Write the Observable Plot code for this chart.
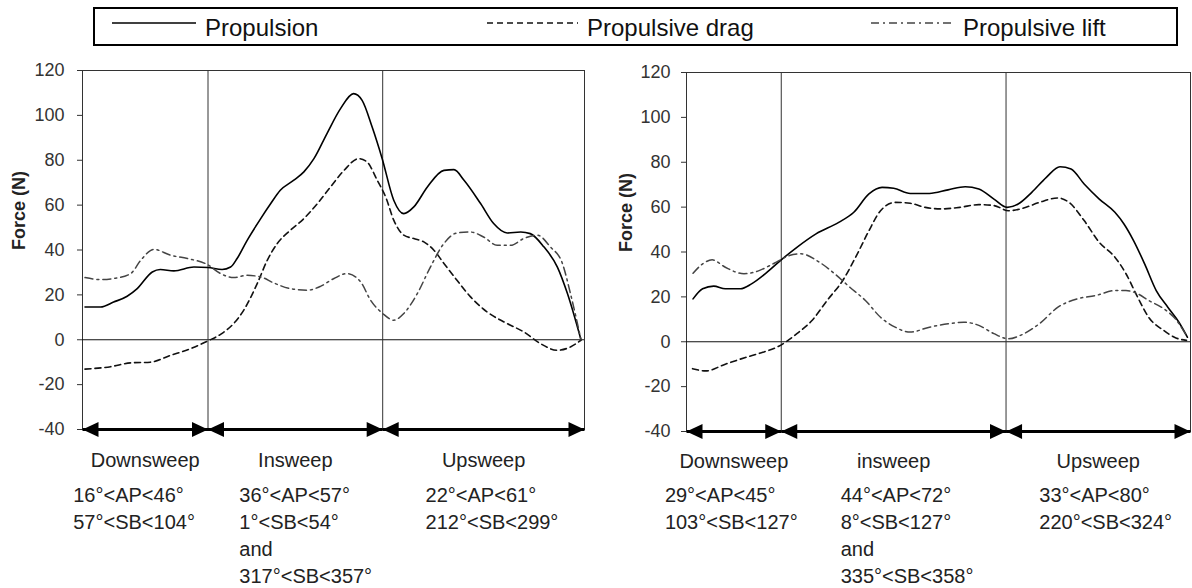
<!DOCTYPE html>
<html>
<head>
<meta charset="utf-8">
<script src="https://cdn.jsdelivr.net/npm/d3@7"></script>
<script src="https://cdn.jsdelivr.net/npm/@observablehq/plot@0.6"></script>
<style>
  body { margin: 0; background: #fff; }
  #root { position: relative; width: 1192px; height: 588px; overflow: hidden;
          font-family: "Liberation Sans", Arial, sans-serif; color: #222; background: #fff; }
  .panel { position: absolute; top: 60px; }
  #legend { position: absolute; left: 93px; top: 7px; width: 1085px; height: 39px;
            box-sizing: border-box; border: 2px solid #000; }
  .lg-item { position: absolute; top: 0; height: 35px; display: flex; align-items: center; white-space: nowrap; }
  .lg-item svg { display: block; margin-right: 9px; }
  .lg-item span { font-size: 24px; line-height: 35px; color: #111; position: relative; top: 1px; }
</style>
</head>
<body>
<div id="root">
  <div id="legend"></div>
  <div id="left" class="panel" style="left:0px"></div>
  <div id="right" class="panel" style="left:596px"></div>
</div>
<script>
// ---------------- DATA ----------------
// x = percentage of the stroke (0..100), y = force (N)
const yTicks = [-40, -20, 0, 20, 40, 60, 80, 100, 120];
const legendLabels = ["Propulsion", "Propulsive drag", "Propulsive lift"];

// Left panel
const leftBounds = [0, 25.0, 59.8, 100];
const leftPhaseNames = ["Downsweep", "Insweep", "Upsweep"];
const leftPhaseAngles = [
  ["16°<AP<46°", "57°<SB<104°"],
  ["36°<AP<57°", "1°<SB<54°", "and", "317°<SB<357°"],
  ["22°<AP<61°", "212°<SB<299°"]
];
const leftPropulsion = [[0.5,14.6],[3.6,14.6],[6.2,16.8],[8.9,19.4],[10.9,22.8],[13.9,30.2],[15.5,31.3],[18.2,30.7],[22.2,32.4],[25.0,32.2],[27.8,31.3],[29.5,32.4],[30.8,36.2],[32.8,44.3],[35.5,54.0],[37.5,60.7],[39.4,66.6],[42.1,71.1],[44.1,74.8],[46.1,80.7],[48.7,91.9],[51.4,103.0],[54.0,109.7],[55.7,106.7],[57.7,94.8],[59.7,80.7],[62.0,62.2],[64.0,56.2],[66.0,59.2],[68.7,68.1],[72.0,75.5],[74.0,75.8],[76.0,71.1],[79.3,60.7],[81.9,51.8],[84.6,47.6],[87.3,48.0],[89.2,47.3],[91.9,41.4],[94.6,32.4],[96.6,20.6],[99.3,0]];
const leftDrag = [[0.5,-13.1],[5.6,-12],[9.6,-10.3],[13.5,-10],[17.5,-7],[21.5,-4],[25.0,-0.5],[27.5,2.4],[30.1,7.2],[32.1,13.1],[34.8,25.0],[36.8,35.4],[38.8,42.9],[41.4,48.8],[44.1,54.0],[46.8,60.7],[49.4,68.1],[52.1,75.5],[55.0,80.7],[56.7,79.2],[58.7,71.1],[60.4,63.6],[62.0,53.3],[64.0,46.6],[66.0,45.1],[68.0,43.6],[70.0,39.9],[72.0,34.0],[74.6,26.5],[77.3,19.1],[80.6,12.4],[84.6,7.2],[87.9,3.5],[91.2,-1.7],[94.6,-4.7],[97.2,-3.2],[99.3,-0.2]];
const leftLift = [[0.5,27.7],[3.6,26.8],[6.2,27.3],[9.6,29.5],[11.6,35.4],[14.2,40.3],[17.5,37.7],[20.9,36.2],[24.8,33.6],[27.5,29.5],[30.1,27.7],[32.8,28.7],[35.5,28.0],[38.1,25.3],[41.4,22.8],[44.8,22.1],[47.4,23.8],[50.1,27.3],[52.7,29.5],[55.4,25.8],[57.4,17.6],[59.8,11.7],[62.0,8.7],[64.0,11.7],[66.7,20.6],[69.3,32.4],[72.0,42.9],[74.6,47.6],[77.3,48.0],[79.9,45.8],[82.6,42.1],[85.3,42.1],[87.9,45.1],[90.6,46.6],[93.2,41.4],[95.6,34.0],[97.2,20.6],[99.3,0]];

// Right panel
const rightBounds = [0, 18.8, 63.4, 100];
const rightPhaseNames = ["Downsweep", "insweep", "Upsweep"];
const rightPhaseAngles = [
  ["29°<AP<45°", "103°<SB<127°"],
  ["44°<AP<72°", "8°<SB<127°", "and", "335°<SB<358°"],
  ["33°<AP<80°", "220°<SB<324°"]
];
const rightPropulsion = [[1.3,19.1],[3.2,23.6],[5.4,24.8],[7.7,23.6],[10.7,23.6],[12.9,25.8],[16.0,31.0],[18.8,36.5],[21.9,42.1],[25.7,48.1],[30.2,53.2],[33.2,57.7],[36.2,65.9],[38.8,68.8],[41.1,68.4],[44.4,66.1],[48.2,66.1],[51.9,67.7],[55.3,69.1],[58.0,68.1],[61.0,63.6],[63.6,59.9],[65.8,61.4],[68.5,66.6],[71.4,73.3],[74.1,78.0],[76.3,77.0],[78.9,70.3],[81.9,63.6],[85.0,57.7],[86.8,52.5],[88.7,45.1],[90.9,34.7],[93.2,22.8],[95.5,15.4],[97.7,8.7],[99.4,2.0]];
const rightDrag = [[1.2,-12],[3.8,-13],[7.7,-10],[11.7,-7],[14.7,-5],[18.3,-2],[21.9,3.6],[24.9,9.5],[27.9,18.4],[31.0,27.3],[33.9,39.2],[36.2,49.5],[38.5,58.4],[41.4,62.1],[44.4,61.7],[47.4,59.9],[50.5,59.2],[54.2,59.9],[58.0,61.1],[61.0,60.7],[63.9,58.4],[66.9,59.6],[70.0,62.1],[73.7,64.1],[75.9,62.1],[78.9,54.0],[81.9,44.3],[85.0,37.7],[87.2,30.3],[89.5,19.9],[91.7,10.9],[94.7,5.0],[97.0,1.8],[99.2,0.6]];
const rightLift = [[1.3,30.5],[3.2,34.7],[5.1,36.5],[7.7,33.2],[11.4,30.3],[14.4,31.7],[17.4,35.0],[20.4,38.4],[22.7,39.2],[26.4,35.4],[29.4,30.3],[32.4,24.3],[35.5,18.4],[38.5,10.9],[41.4,6.5],[44.4,4.3],[48.2,6.5],[51.9,8.0],[55.0,8.7],[58.0,7.3],[61.0,3.6],[63.9,1.3],[66.2,2.8],[70.0,8.0],[73.7,15.4],[77.5,19.1],[81.2,20.6],[85.0,22.8],[87.2,22.8],[89.5,21.4],[91.7,18.4],[94.7,14.7],[97.0,10.2],[99.2,2.8]];

// ---------------- STYLES ----------------
const lineStyles = [
  {stroke: "#000", strokeWidth: 1.6, strokeDasharray: null},
  {stroke: "#111", strokeWidth: 1.6, strokeDasharray: "6,4"},
  {stroke: "#444", strokeWidth: 1.5, strokeDasharray: "8,4,2,4"}
];

// ---------------- LEGEND ----------------
const legendLefts = [17, 392, 776];
const legendSampleW = [84, 91, 83];
const legend = document.getElementById("legend");
legendLabels.forEach((lab, i) => {
  const item = document.createElement("div");
  item.className = "lg-item";
  item.style.left = legendLefts[i] + "px";
  const st = lineStyles[i];
  item.innerHTML = `<svg width="${legendSampleW[i]}" height="35"><line x1="0" x2="${legendSampleW[i]}" y1="14" y2="14" stroke="${st.stroke}" stroke-width="${st.strokeWidth}" ${st.strokeDasharray ? `stroke-dasharray="${st.strokeDasharray}"` : ""}/></svg><span>${lab}</span>`;
  legend.appendChild(item);
});

// ---------------- PANELS ----------------
const yMin = -40, yMax = 120;

function fixMarkers(svg) {
  svg.querySelectorAll("marker").forEach(m => {
    m.setAttribute("overflow", "visible");
    m.setAttribute("fill", "#000");
    m.setAttribute("stroke", "none");
    m.setAttribute("orient", "auto-start-reverse");
    m.innerHTML = '<path d="M-8,-3.7L0,0L-8,3.7Z"></path>';
  });
}

function panel(el, cfg) {
  const phases = cfg.names.map((name, i) => ({start: cfg.bounds[i], end: cfg.bounds[i + 1], name, lines: cfg.angles[i]}));
  const seriesList = [cfg.propulsion, cfg.drag, cfg.lift];
  const marks = [
    Plot.frame({stroke: "#333", strokeWidth: 1}),
    Plot.ruleY([0], {stroke: "#111", strokeWidth: 1}),
    Plot.ruleX(cfg.bounds.slice(1, -1), {stroke: "#333", strokeWidth: 1}),
    Plot.axisY({ticks: yTicks, tickSize: 5, tickPadding: cfg.tickPadding, tickFormat: d => String(d), fontSize: 18, label: null}),
    ...seriesList.map((s, i) => Plot.line(s, {
      x: d => d[0], y: d => d[1], curve: "monotone-x",
      stroke: lineStyles[i].stroke, strokeWidth: lineStyles[i].strokeWidth,
      ...(lineStyles[i].strokeDasharray ? {strokeDasharray: lineStyles[i].strokeDasharray} : {})
    })),
    Plot.link(phases, {x1: "start", x2: "end", y1: () => yMin, y2: () => yMin,
      stroke: "#000", strokeWidth: 3, markerStart: "arrow", markerEnd: "arrow"}),
    Plot.text(phases, {x: d => (d.start + d.end) / 2, y: () => yMin, text: "name",
      textAnchor: "middle", lineAnchor: "top", dy: cfg.titleDy, fontSize: 20, fill: "#222"}),
    ...phases.map((p, i) => Plot.text([p], {x: d => (d.start + d.end) / 2, y: () => yMin,
      text: d => d.lines.join("\n"), textAnchor: "start", lineAnchor: "top",
      dx: cfg.blockDx[i], dy: cfg.blockDy, fontSize: 20, lineHeight: 1.35, fill: "#222"})),
    Plot.text(["Force (N)"], {frameAnchor: "left", text: d => d, rotate: -90, dx: cfg.labelDx,
      fontWeight: "bold", fontSize: 18, fill: "#222"})
  ];
  const svg = Plot.plot({
    width: 596, height: 528,
    marginLeft: cfg.marginLeft, marginRight: cfg.marginRight,
    marginTop: cfg.marginTop, marginBottom: cfg.marginBottom,
    x: {domain: [0, 100], axis: null},
    y: {domain: [yMin, yMax]},
    style: {fontFamily: '"Liberation Sans", Arial, sans-serif', fontSize: "18px", color: "#333", background: "transparent", overflow: "visible"},
    marks
  });
  fixMarkers(svg);
  el.appendChild(svg);
}

panel(document.getElementById("left"), {
  bounds: leftBounds, names: leftPhaseNames, angles: leftPhaseAngles,
  propulsion: leftPropulsion, drag: leftDrag, lift: leftLift,
  blockDx: [-72, -56, -58], labelDx: -63, tickPadding: 13, titleDy: 23, blockDy: 53,
  marginLeft: 82, marginRight: 12, marginTop: 10, marginBottom: 159
});
panel(document.getElementById("right"), {
  bounds: rightBounds, names: rightPhaseNames, angles: rightPhaseAngles,
  propulsion: rightPropulsion, drag: rightDrag, lift: rightLift,
  blockDx: [-69, -53, -59], labelDx: -60, tickPadding: 11, titleDy: 22, blockDy: 51,
  marginLeft: 90, marginRight: 2, marginTop: 12, marginBottom: 157
});
</script>
</body>
</html>
